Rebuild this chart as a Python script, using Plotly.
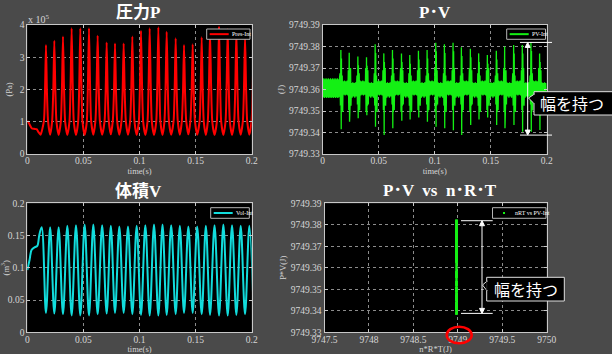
import plotly.graph_objects as go

W, H = 612, 354

# ---------------- data ----------------
time_ticks = [0, 0.05, 0.1, 0.15, 0.2]
time_labels = ["0", "0.05", "0.1", "0.15", "0.2"]

# Pressure (x 1e5 Pa): start transient, then peaks
p_init_t = [0.0, 0.0015, 0.0039, 0.0060, 0.0083, 0.0100, 0.0118]
p_init = [1.03, 0.95, 0.80, 0.78, 0.77, 0.68, 0.60]
peak_t = [0.01664, 0.02407, 0.03180, 0.03952, 0.04725, 0.05498, 0.06270, 0.07073,
          0.07816, 0.08588, 0.09361, 0.10134, 0.10906, 0.11679, 0.12422, 0.13224,
          0.13967, 0.14740, 0.15542, 0.16285, 0.17088, 0.17860, 0.18633, 0.19406,
          0.20179]
p_peak = [3.38, 3.51, 3.64, 3.90, 3.90, 3.90, 3.67, 3.46, 3.43, 3.43, 3.64, 3.82,
          3.90, 3.93, 3.79, 3.59, 3.38, 3.40, 3.62, 3.79, 3.95, 3.87, 3.79, 3.64,
          3.50]
p_trough = [0.60, 0.59, 0.59, 0.59, 0.59, 0.60, 0.60, 0.61, 0.60, 0.60, 0.59, 0.59,
            0.59, 0.59, 0.60, 0.60, 0.61, 0.60, 0.59, 0.59, 0.59, 0.59, 0.60, 0.60,
            0.60]

# Volume (m^3)
v_init_t = [0.0, 0.0020, 0.0039, 0.0068, 0.0089, 0.0107, 0.0128]
v_init = [0.0966, 0.112, 0.128, 0.132, 0.134, 0.151, 0.163]
v_trough = [0.030, 0.029, 0.028, 0.026, 0.026, 0.026, 0.028, 0.029, 0.030, 0.030,
            0.028, 0.027, 0.026, 0.026, 0.027, 0.028, 0.030, 0.030, 0.028, 0.027,
            0.026, 0.026, 0.027, 0.028, 0.029]
v_peak = [0.163, 0.163, 0.165, 0.166, 0.167, 0.167, 0.166, 0.165, 0.164, 0.164,
          0.165, 0.166, 0.167, 0.167, 0.166, 0.165, 0.164, 0.164, 0.165, 0.166,
          0.167, 0.166, 0.165, 0.165]

# P*V (J): baseline band and spikes at each pressure peak
pv_base_hi = [9749.3638, 9749.3630, 9749.3642, 9749.3634]
pv_base_lo = [9749.3568, 9749.3576, 9749.3562, 9749.3572]
pv_up = [9749.3784, 9749.3771, 9749.3753, 9749.3750, 9749.3810, 9749.3768,
         9749.3784, 9749.3768, 9749.3760, 9749.3780, 9749.3784, 9749.3818,
         9749.3810, 9749.3818, 9749.3796, 9749.3790, 9749.3768, 9749.3760,
         9749.3780, 9749.3800, 9749.3807, 9749.3807, 9749.3819, 9749.3768]
pv_dn = [9749.3415, 9749.3450, 9749.3466, 9749.3480, 9749.3427, 9749.3388,
         9749.3420, 9749.3455, 9749.3460, 9749.3470, 9749.3450, 9749.3427,
         9749.3420, 9749.3410, 9749.3388, 9749.3435, 9749.3460, 9749.3470,
         9749.3435, 9749.3420, 9749.3435, 9749.3404, 9749.3404, 9749.3412]
pv_near_hi = [9749.3675, 9749.3690, 9749.3665, 9749.3700]
pv_near_lo = [9749.3525, 9749.3505, 9749.3530, 9749.3495]

# n*R*T (J)
nrt_value = 9748.985
nrt_ticks = [9747.5, 9748, 9748.5, 9749, 9749.5, 9750]
nrt_labels = ["9747.5", "9748", "9748.5", "9749", "9749.5", "9750"]
pv_ticks = [9749.33, 9749.34, 9749.35, 9749.36, 9749.37, 9749.38, 9749.39]
pv_labels = ["9749.33", "9749.34", "9749.35", "9749.36", "9749.37", "9749.38", "9749.39"]

series_names = ["Pres-Int", "PV-Int", "Vol-Int", "nRT vs PV-Int"]

# ---------------- build traces from data ----------------
px_, py_ = list(p_init_t), list(p_init)
for i, t0 in enumerate(peak_t):
    T = (peak_t[i + 1] - t0) if i + 1 < len(peak_t) else (t0 - peak_t[i - 1])
    pk = p_peak[i]
    m = p_trough[i]
    prev_m = p_trough[i - 1] if i > 0 else p_init[-1]
    px_ += [t0 - 0.25 * T, t0 - 0.12 * T, t0, t0 + 0.12 * T, t0 + 0.25 * T, t0 + 0.5 * T]
    py_ += [prev_m * 1.7, pk * 0.56, pk, pk * 0.56, m * 1.7, m]

vx, vy = list(v_init_t), list(v_init)
for i, t0 in enumerate(peak_t):
    vx.append(t0)
    vy.append(v_trough[i])
    if i < len(v_peak):
        vx.append((t0 + peak_t[i + 1]) / 2)
        vy.append(v_peak[i])

pvx, pvy = [], []
t = 0.0
k = 0
while t < peak_t[0] - 0.0012:
    pvx.append(t)
    pvy.append(pv_base_hi[k % 4] + 0.001 if k % 2 == 0 else pv_base_lo[k % 4] - 0.0012)
    t += 0.0005
    k += 1
for i in range(len(pv_up)):
    ts = peak_t[i]
    j = i % 4
    pvx += [ts - 0.0012, ts - 0.0008, ts - 0.0004, ts - 0.0001, ts + 0.0001,
            ts + 0.0004, ts + 0.0008, ts + 0.0012]
    pvy += [pv_near_hi[j], pv_near_lo[j], pv_up[i], pv_dn[i], pv_up[i] - 0.004,
            pv_near_lo[(j + 1) % 4], pv_near_hi[(j + 2) % 4], pv_near_lo[(j + 3) % 4]]
    nxt = peak_t[i + 1] - 0.0012
    t = ts + 0.0016
    k = 0
    while t < nxt and t <= 0.2:
        pvx.append(t)
        pvy.append(pv_base_hi[(k + i) % 4] if k % 2 == 0 else pv_base_lo[(k + i) % 4])
        t += 0.0006
        k += 1

# ---------------- figure ----------------
def fx(x):
    return x / W


def fy(y):
    return 1 - y / H


RED = "#ff0000"
GREEN = "#14f014"
CYAN = "#12dcdc"
TICKC = "#d6d6d6"
SERIF = "Liberation Serif, Noto Sans CJK JP"

fig = go.Figure()
fig.add_trace(go.Scatter(x=px_, y=py_, mode="lines", name=series_names[0],
                         line=dict(color=RED, width=2, shape="spline", smoothing=0.6),
                         xaxis="x", yaxis="y"))
fig.add_trace(go.Scatter(x=pvx, y=pvy, mode="lines", name=series_names[1],
                         line=dict(color=GREEN, width=1.3),
                         xaxis="x2", yaxis="y2"))
fig.add_trace(go.Scatter(x=vx, y=vy, mode="lines", name=series_names[2],
                         line=dict(color=CYAN, width=2, shape="spline", smoothing=1.0),
                         xaxis="x3", yaxis="y3"))
fig.add_trace(go.Scatter(x=[nrt_value] * len(pvy), y=pvy, mode="lines+markers",
                         name=series_names[3],
                         line=dict(color=GREEN, width=2.5),
                         marker=dict(color=GREEN, size=2.5, symbol="square", line=dict(width=0)),
                         xaxis="x4", yaxis="y4"))

ax_common = dict(showline=True, linecolor="#c8c8c8", linewidth=1, mirror="ticks",
                 ticks="inside", ticklen=3, tickcolor="#c8c8c8",
                 showgrid=True, gridcolor="#8c8c8c", griddash="dot", gridwidth=1,
                 zeroline=False, tickfont=dict(family=SERIF, size=9.5, color=TICKC),
                 automargin=False)
xax_extra = dict(ticklabelstandoff=-2)
title_font = dict(family=SERIF, size=8.5, color=TICKC)

xd_left = [fx(27.3), fx(251.7)]
xd_right = [fx(322.7), fx(546.7)]
xd_right_b = [fx(324.5), fx(546.7)]
yd_top = [fy(154), fy(25)]
yd_bot = [fy(332.3), fy(203.3)]

fig.update_layout(
    width=W, height=H, margin=dict(l=0, r=0, t=0, b=0),
    paper_bgcolor="#4a4a4a", plot_bgcolor="#000000", showlegend=False,
    xaxis=dict(ax_common, **xax_extra, domain=xd_left, anchor="y", range=[0, 0.2],
               tickvals=time_ticks, ticktext=time_labels,
               title=dict(text="time(s)", font=title_font, standoff=1)),
    yaxis=dict(ax_common, domain=yd_top, anchor="x", range=[0, 4],
               tickvals=[0, 1, 2, 3, 4],
               title=dict(text="(Pa)", font=title_font, standoff=5)),
    xaxis2=dict(ax_common, **xax_extra, domain=xd_right, anchor="y2", range=[0, 0.2],
                tickvals=time_ticks, ticktext=time_labels,
                title=dict(text="time(s)", font=title_font, standoff=1)),
    yaxis2=dict(ax_common, domain=yd_top, anchor="x2", range=[9749.33, 9749.39],
                tickvals=pv_ticks, ticktext=pv_labels,
                title=dict(text="(J)", font=title_font, standoff=2)),
    xaxis3=dict(ax_common, **xax_extra, domain=xd_left, anchor="y3", range=[0, 0.2],
                tickvals=time_ticks, ticktext=time_labels,
                title=dict(text="time(s)", font=title_font, standoff=1)),
    yaxis3=dict(ax_common, domain=yd_bot, anchor="x3", range=[0, 0.2],
                tickvals=[0, 0.05, 0.1, 0.15, 0.2], ticktext=["0", "0.05", "0.1", "0.15", "0.2"],
                title=dict(text="(m<sup>3</sup>)", font=title_font, standoff=2)),
    xaxis4=dict(ax_common, **xax_extra, domain=xd_right_b, anchor="y4", range=[9747.5, 9750],
                tickvals=nrt_ticks, ticktext=nrt_labels,
                title=dict(text="n*R*T(J)", font=title_font, standoff=1)),
    yaxis4=dict(ax_common, domain=yd_bot, anchor="x4", range=[9749.33, 9749.39],
                tickvals=pv_ticks, ticktext=pv_labels,
                title=dict(text="P*V(J)", font=title_font, standoff=2)),
)

# small MATLAB-style legends drawn as boxes
legends = [  # box x0, y0, x1, y1, color, kind, name
    (206.7, 29, 250, 39.3, RED, "line", series_names[0]),
    (506.7, 29, 545.5, 39.3, GREEN, "line", series_names[1]),
    (210.7, 207.7, 249.3, 218.3, CYAN, "line", series_names[2]),
    (492.5, 207.7, 546, 218.3, GREEN, "marker", series_names[3]),
]
for x0, y0, x1, y1, col, kind, name in legends:
    fig.add_shape(type="rect", xref="paper", yref="paper", x0=fx(x0), x1=fx(x1),
                  y0=fy(y1), y1=fy(y0), fillcolor="#000000",
                  line=dict(color="#b4b4b4", width=1))
    ym = (y0 + y1) / 2
    if kind == "line":
        fig.add_shape(type="line", xref="paper", yref="paper", x0=fx(x0 + 3), x1=fx(x0 + 22),
                      y0=fy(ym), y1=fy(ym), line=dict(color=col, width=2))
        tx = x0 + 23.5
    else:
        fig.add_shape(type="rect", xref="paper", yref="paper", x0=fx(x0 + 10.5), x1=fx(x0 + 12.5),
                      y0=fy(ym + 1), y1=fy(ym - 1), fillcolor=col, line=dict(width=0))
        tx = x0 + 20
    fig.add_annotation(text=name, x=fx(tx), y=fy(ym), xref="paper", yref="paper",
                       showarrow=False, xanchor="left", yanchor="middle",
                       font=dict(family=SERIF, size=6, color="#ffffff"))

# titles
titles = [("圧力P", 138, 12.5), ("P･V", 435, 12.5), ("体積V", 138, 191),
          ("P･V  vs  n･R･T", 440, 190)]
for txt, x, y in titles:
    fig.add_annotation(text="<b>" + txt + "</b>", x=fx(x), y=fy(y), xref="paper", yref="paper",
                       showarrow=False, xanchor="center", yanchor="middle",
                       font=dict(family=SERIF, size=17, color="#ffffff"))

# exponent label
fig.add_annotation(text="x 10<sup>5</sup>", x=fx(26), y=fy(19), xref="paper", yref="paper",
                   showarrow=False, xanchor="left", yanchor="middle",
                   font=dict(family=SERIF, size=10, color=TICKC))

# width markers (horizontal limits + double arrow)
pv_max = max(pv_up)
pv_min = min(pv_dn)
unit_per_px = (pv_ticks[-1] - pv_ticks[0]) / 129.0
head = 5 * unit_per_px
for yref, x0, x1, xa in [("y2", 520, 552, 527.7), ("y4", 461, 492.7, 482)]:
    for yv in (pv_max, pv_min):
        fig.add_shape(type="line", xref="paper", yref=yref, x0=fx(x0), x1=fx(x1),
                      y0=yv, y1=yv, line=dict(color="#ffffff", width=1))
    fig.add_shape(type="line", xref="paper", yref=yref, x0=fx(xa), x1=fx(xa),
                  y0=pv_min + head, y1=pv_max - head, line=dict(color="#ffffff", width=1))
    fig.add_shape(type="path", xref="paper", yref=yref,
                  path="M {} {} L {} {} L {} {} Z".format(fx(xa - 2.5), pv_max - head, fx(xa), pv_max,
                                                          fx(xa + 2.5), pv_max - head),
                  fillcolor="#ffffff", line=dict(color="#ffffff", width=1))
    fig.add_shape(type="path", xref="paper", yref=yref,
                  path="M {} {} L {} {} L {} {} Z".format(fx(xa - 2.5), pv_min + head, fx(xa), pv_min,
                                                          fx(xa + 2.5), pv_min + head),
                  fillcolor="#ffffff", line=dict(color="#ffffff", width=1))

# callout boxes
for (bx0, by0, bx1, by1, tipx, tipy, tcx) in [(534, 91.7, 620, 115, 528.5, 98, 572),
                                              (486.7, 277.3, 564.3, 301, 482.5, 285, 525.5)]:
    fig.add_shape(type="rect", xref="paper", yref="paper", x0=fx(bx0), x1=fx(bx1),
                  y0=fy(by1), y1=fy(by0), fillcolor="#000000",
                  line=dict(color="#e0e0e0", width=1))
    fig.add_shape(type="path", xref="paper", yref="paper",
                  path="M {} {} L {} {} L {} {} Z".format(fx(bx0 + 0.5), fy(tipy - 4),
                                                          fx(tipx), fy(tipy),
                                                          fx(bx0 + 0.5), fy(tipy + 6)),
                  fillcolor="#000000", line=dict(color="#e0e0e0", width=1))
    fig.add_shape(type="line", xref="paper", yref="paper", x0=fx(bx0 + 0.5), x1=fx(bx0 + 0.5),
                  y0=fy(tipy - 3.5), y1=fy(tipy + 5.5), line=dict(color="#000000", width=1.5))
    fig.add_annotation(text="幅を持つ", x=fx(tcx), y=fy((by0 + by1) / 2), xref="paper", yref="paper",
                       showarrow=False, xanchor="center", yanchor="middle",
                       font=dict(family="Noto Sans CJK JP", size=16, color="#ffffff"))

# red circle around the 9749 tick label
fig.add_shape(type="circle", xref="paper", yref="paper", x0=fx(446.7), x1=fx(471.7),
              y0=fy(343.3), y1=fy(326.7), line=dict(color="#ff0000", width=2.5))

fig.write_html("out.html")
